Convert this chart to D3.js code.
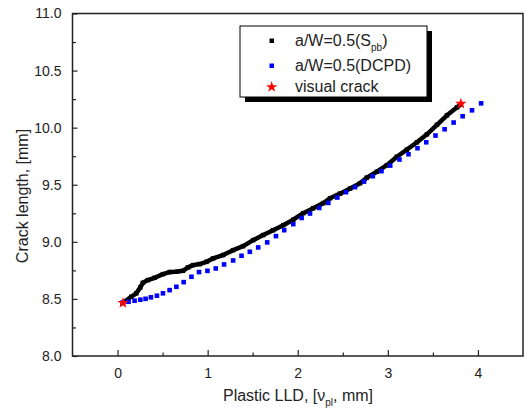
<!DOCTYPE html>
<html>
<head>
<meta charset="utf-8">
<script src="https://cdn.jsdelivr.net/npm/d3@7"></script>
<style>
  body { margin: 0; background: #fff; }
  text { font-family: "Liberation Sans", Arial, sans-serif; fill: #222; }
</style>
</head>
<body>
<div id="chart"></div>
<script>
// S_pb estimate (black)
var spb_x = [0.056, 0.152, 0.208, 0.253, 0.281, 0.337, 0.412, 0.504, 0.578, 0.653, 0.726, 0.782, 0.838, 0.912, 0.987,
  1.060, 1.171, 1.283, 1.394, 1.505, 1.616, 1.727, 1.839, 1.950, 2.061, 2.172, 2.284, 2.358, 2.469, 2.581,
  2.692, 2.766, 2.878, 2.989, 3.100, 3.211, 3.323, 3.434, 3.545, 3.656, 3.768, 3.812];
var spb_y = [8.464, 8.519, 8.549, 8.601, 8.641, 8.665, 8.685, 8.717, 8.735, 8.738, 8.746, 8.776, 8.796, 8.805, 8.825,
  8.855, 8.884, 8.927, 8.962, 9.015, 9.059, 9.102, 9.146, 9.194, 9.251, 9.295, 9.339, 9.382, 9.422, 9.467,
  9.514, 9.562, 9.614, 9.671, 9.745, 9.807, 9.872, 9.942, 10.025, 10.108, 10.178, 10.205];

// DCPD estimate (blue squares)
var dcpd_x = [0.056, 0.122, 0.189, 0.253, 0.311, 0.370, 0.437, 0.504, 0.578, 0.653, 0.734, 0.820, 0.904, 0.998,
  1.090, 1.182, 1.283, 1.376, 1.468, 1.561, 1.661, 1.758, 1.850, 1.950, 2.043, 2.136, 2.239, 2.339, 2.439,
  2.536, 2.636, 2.736, 2.833, 2.929, 3.026, 3.129, 3.229, 3.329, 3.426, 3.529, 3.630, 3.730, 3.830, 3.934, 4.035];
var dcpd_y = [8.468, 8.475, 8.484, 8.493, 8.501, 8.514, 8.528, 8.549, 8.577, 8.606, 8.647, 8.694, 8.735, 8.746,
  8.767, 8.802, 8.837, 8.878, 8.913, 8.951, 8.995, 9.050, 9.102, 9.155, 9.209, 9.248, 9.297, 9.341, 9.388,
  9.435, 9.479, 9.528, 9.575, 9.619, 9.668, 9.721, 9.767, 9.820, 9.872, 9.931, 9.986, 10.045, 10.100, 10.152, 10.213];

// visual crack observations
var visual_x = [0.06, 3.81];
var visual_y = [8.465, 10.21];

var x_ticks = [0, 1, 2, 3, 4];
var x_minor = [0.5, 1.5, 2.5, 3.5];
var y_ticks = [8.0, 8.5, 9.0, 9.5, 10.0, 10.5, 11.0];
var y_minor = [8.25, 8.75, 9.25, 9.75, 10.25, 10.75];

var width = 532, height = 410;
var margin = {left: 72.5, right: 523, top: 13.5, bottom: 356};

var svg = d3.select("#chart").append("svg")
  .attr("width", width)
  .attr("height", height);

var x = d3.scaleLinear().domain([-0.5, 4.5]).range([margin.left, margin.right]);
var y = d3.scaleLinear().domain([8.0, 11.0]).range([margin.bottom, margin.top]);

// frame
svg.append("rect")
  .attr("x", margin.left).attr("y", margin.top)
  .attr("width", margin.right - margin.left).attr("height", margin.bottom - margin.top)
  .attr("fill", "none").attr("stroke", "#222").attr("stroke-width", 1.5);

// bottom axis, ticks point inward
var xAxis = svg.append("g").attr("transform", "translate(0," + margin.bottom + ")");
xAxis.call(d3.axisBottom(x).tickValues(x_ticks).tickSizeInner(-6).tickSizeOuter(0).tickPadding(12).tickFormat(d3.format("d")));
xAxis.append("g").call(d3.axisBottom(x).tickValues(x_minor).tickSizeInner(-3.5).tickSizeOuter(0).tickFormat(""));
xAxis.selectAll(".domain").remove();
xAxis.selectAll("line").attr("stroke", "#222").attr("stroke-width", 1.2);
xAxis.selectAll("text").attr("font-size", 14).attr("fill", "#222")
  .style("font-family", "Liberation Sans, Arial, sans-serif");

var yAxis = svg.append("g").attr("transform", "translate(" + margin.left + ",0)");
yAxis.call(d3.axisLeft(y).tickValues(y_ticks).tickSizeInner(-5).tickSizeOuter(0).tickPadding(11).tickFormat(d3.format(".1f")));
yAxis.append("g").call(d3.axisLeft(y).tickValues(y_minor).tickSizeInner(-3.5).tickSizeOuter(0).tickFormat(""));
yAxis.selectAll(".domain").remove();
yAxis.selectAll("line").attr("stroke", "#222").attr("stroke-width", 1.2);
yAxis.selectAll("text").attr("font-size", 14).attr("fill", "#222")
  .style("font-family", "Liberation Sans, Arial, sans-serif");

// axis titles
var xt = svg.append("text")
  .attr("x", 298).attr("y", 401)
  .attr("text-anchor", "middle")
  .attr("font-size", 16);
xt.append("tspan").text("Plastic LLD, [\u03bd");
xt.append("tspan").attr("font-size", 10).attr("dy", 5).text("pl");
xt.append("tspan").attr("dy", -5).text(", mm]");

svg.append("text")
  .attr("transform", "translate(28," + 196 + ") rotate(-90)")
  .attr("text-anchor", "middle")
  .attr("font-size", 16)
  .text("Crack length, [mm]");

// series data
var spb = spb_x.map(function(d, i) { return [d, spb_y[i]]; });
var dcpd = dcpd_x.map(function(d, i) { return [d, dcpd_y[i]]; });
var visual = visual_x.map(function(d, i) { return [d, visual_y[i]]; });

// S_pb: dense squares drawn as a thick trace
svg.append("path")
  .datum(spb)
  .attr("d", d3.line().x(function(d) { return x(d[0]); }).y(function(d) { return y(d[1]); }))
  .attr("fill", "none")
  .attr("stroke", "#000")
  .attr("stroke-width", 4.5)
  .attr("stroke-linejoin", "round");

svg.selectAll("rect.spb")
  .data(spb).enter().append("rect")
  .attr("class", "spb")
  .attr("x", function(d) { return x(d[0]) - 2.25; })
  .attr("y", function(d) { return y(d[1]) - 2.25; })
  .attr("width", 4.5).attr("height", 4.5)
  .attr("fill", "#000");

svg.selectAll("rect.dcpd")
  .data(dcpd).enter().append("rect")
  .attr("class", "dcpd")
  .attr("x", function(d) { return x(d[0]) - 2.3; })
  .attr("y", function(d) { return y(d[1]) - 2.3; })
  .attr("width", 4.6).attr("height", 4.6)
  .attr("fill", "#0000ff");

var star = d3.symbol().type(d3.symbolStar).size(40);
svg.selectAll("path.visual")
  .data(visual).enter().append("path")
  .attr("class", "visual")
  .attr("transform", function(d) { return "translate(" + x(d[0]) + "," + y(d[1]) + ")"; })
  .attr("d", star)
  .attr("fill", "#ff0000");

// legend
var lg = svg.append("g");
lg.append("rect").attr("x", 245).attr("y", 31).attr("width", 187).attr("height", 71).attr("fill", "#000");
lg.append("rect").attr("x", 240).attr("y", 26).attr("width", 187).attr("height", 71)
  .attr("fill", "#fff").attr("stroke", "#000").attr("stroke-width", 1);

lg.append("rect").attr("x", 269.5).attr("y", 38.5).attr("width", 4.5).attr("height", 4.5).attr("fill", "#000");
lg.append("rect").attr("x", 269.5).attr("y", 63.5).attr("width", 4.5).attr("height", 4.5).attr("fill", "#0000ff");
lg.append("path").attr("transform", "translate(271.7,87)").attr("d", star).attr("fill", "#ff0000");

var t1 = lg.append("text").attr("x", 295).attr("y", 46).attr("font-size", 16);
t1.append("tspan").text("a/W=0.5(S");
t1.append("tspan").attr("font-size", 10).attr("dy", 5).text("pb");
t1.append("tspan").attr("dy", -5).text(")");
lg.append("text").attr("x", 295).attr("y", 71).attr("font-size", 16).text("a/W=0.5(DCPD)");
lg.append("text").attr("x", 295).attr("y", 92).attr("font-size", 16).text("visual crack");
</script>
</body>
</html>
